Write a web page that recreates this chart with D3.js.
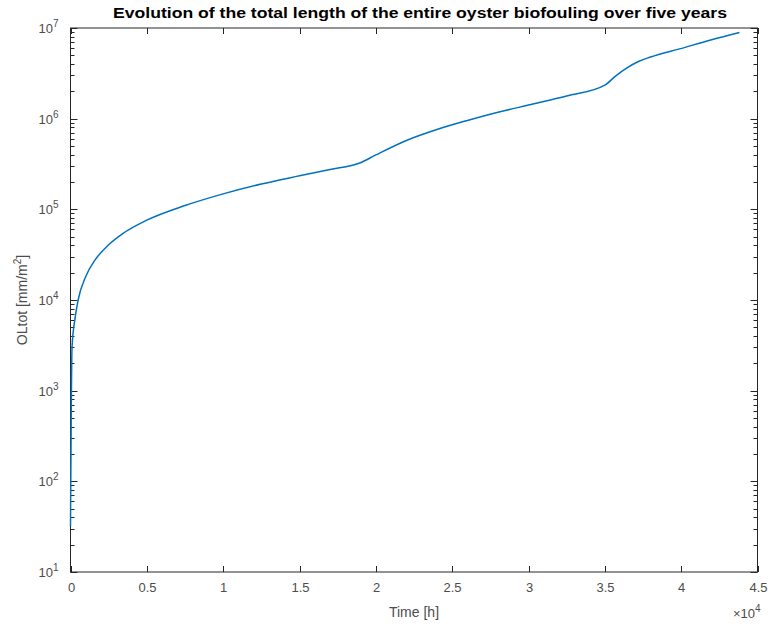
<!DOCTYPE html>
<html>
<head>
<meta charset="utf-8">
<script src="https://cdn.jsdelivr.net/npm/d3@7"></script>
<style>
  body { margin: 0; background: #fff; }
  text { font-family: "Liberation Sans", Arial, sans-serif; }
</style>
</head>
<body>
<div class="chart"></div>
<script>
// time in hours, total oyster length in mm/m^2
let timeHours = [0, 50, 100, 300, 500, 1000, 1600, 2500, 3400, 5000, 7500, 10000, 12500, 15000, 17000, 18950, 20000, 22000, 24000, 26000, 28000, 30000, 32500, 35000, 35700, 36450, 37200, 38000, 39900, 42000, 43820];
let oltot = [32, 630, 3000, 6300, 10000, 18200, 27500, 40700, 53700, 75900, 110000, 148000, 190000, 234000, 275000, 324000, 398000, 575000, 759000, 955000, 1175000, 1413000, 1778000, 2344000, 2950000, 3630000, 4270000, 4786000, 5888000, 7413000, 8913000];
let xTicks = [0, 0.5, 1, 1.5, 2, 2.5, 3, 3.5, 4, 4.5];
let yExponents = [1, 2, 3, 4, 5, 6, 7];

let width = 770, height = 627;
let margin = { left: 70.5, right: 12.5, top: 28, bottom: 55 };
let axisColor = "#262626";
let labelColor = "#4d4d4d";

let svg = d3.select(".chart").append("svg").attr("width", width).attr("height", height);

let x = d3.scaleLinear().domain([0, 45000]).range([margin.left, width - margin.right]);
let y = d3.scaleLog().domain([10, 1e7]).range([height - margin.bottom, margin.top]);

let plotLeft = x.range()[0], plotRight = x.range()[1];
let plotTop = y.range()[1], plotBottom = y.range()[0];

// box
svg.append("rect")
    .attr("x", plotLeft).attr("y", plotTop)
    .attr("width", plotRight - plotLeft).attr("height", plotBottom - plotTop)
    .style("fill", "none").style("stroke", axisColor).style("stroke-width", 1);

let ticks = svg.append("g").style("stroke", axisColor).style("stroke-width", 1);

// x ticks, inward on bottom and top
xTicks.forEach(function (t) {
    let px = Math.round(x(t * 1e4)) + 0.5;
    ticks.append("line").attr("x1", px).attr("x2", px).attr("y1", plotBottom).attr("y2", plotBottom - 6);
    ticks.append("line").attr("x1", px).attr("x2", px).attr("y1", plotTop).attr("y2", plotTop + 6);
    svg.append("text")
        .attr("x", px).attr("y", plotBottom + 20)
        .attr("text-anchor", "middle")
        .style("font-size", "13px").style("fill", labelColor)
        .text(t);
});

// y ticks: majors at decades, minors 2..9
for (let e = 1; e <= 7; e++) {
    for (let m = 1; m <= 9; m++) {
        if (e == 7 && m > 1) break;
        let v = m * Math.pow(10, e);
        let py = Math.round(y(v)) + 0.5;
        let len = m == 1 ? 7 : 4;
        ticks.append("line").attr("x1", plotLeft).attr("x2", plotLeft + len).attr("y1", py).attr("y2", py);
        ticks.append("line").attr("x1", plotRight).attr("x2", plotRight - len).attr("y1", py).attr("y2", py);
    }
}

yExponents.forEach(function (e) {
    let py = y(Math.pow(10, e));
    let label = svg.append("text")
        .attr("x", plotLeft - 12).attr("y", py + 5)
        .attr("text-anchor", "end")
        .style("font-size", "13px").style("fill", labelColor);
    label.append("tspan").text("10");
    label.append("tspan").attr("dy", -6).style("font-size", "10px").text(e);
});

// data line
let line = d3.line()
    .x(function (d, i) { return x(timeHours[i]); })
    .y(function (d) { return y(d); })
    .curve(d3.curveMonotoneX);

svg.append("path")
    .datum(oltot)
    .attr("d", line)
    .style("fill", "none")
    .style("stroke", "#0072BD")
    .style("stroke-width", 1.5);

// title
svg.append("text")
    .attr("x", (plotLeft + plotRight) / 2 + 6).attr("y", 18)
    .attr("text-anchor", "middle")
    .style("font-size", "14px").style("font-weight", "bold").style("fill", "#000")
    .attr("textLength", 614).attr("lengthAdjust", "spacingAndGlyphs")
    .text("Evolution of the total length of the entire oyster biofouling over five years");

// x label
svg.append("text")
    .attr("x", (plotLeft + plotRight) / 2).attr("y", 617)
    .attr("text-anchor", "middle")
    .style("font-size", "14px").style("fill", labelColor)
    .text("Time [h]");

// x exponent
let xe = svg.append("text")
    .attr("x", plotRight + 3).attr("y", 618)
    .attr("text-anchor", "end")
    .style("font-size", "13px").style("fill", labelColor);
xe.append("tspan").text("\u00d710");
xe.append("tspan").attr("dy", -6).style("font-size", "10px").text("4");

// y label
let yl = svg.append("text")
    .attr("transform", "translate(27," + ((plotTop + plotBottom) / 2) + ") rotate(-90)")
    .attr("text-anchor", "middle")
    .style("font-size", "14px").style("fill", labelColor);
yl.append("tspan").text("OLtot [mm/m");
yl.append("tspan").attr("dy", -6).style("font-size", "10px").text("2");
yl.append("tspan").attr("dy", 6).text("]");
</script>
</body>
</html>
